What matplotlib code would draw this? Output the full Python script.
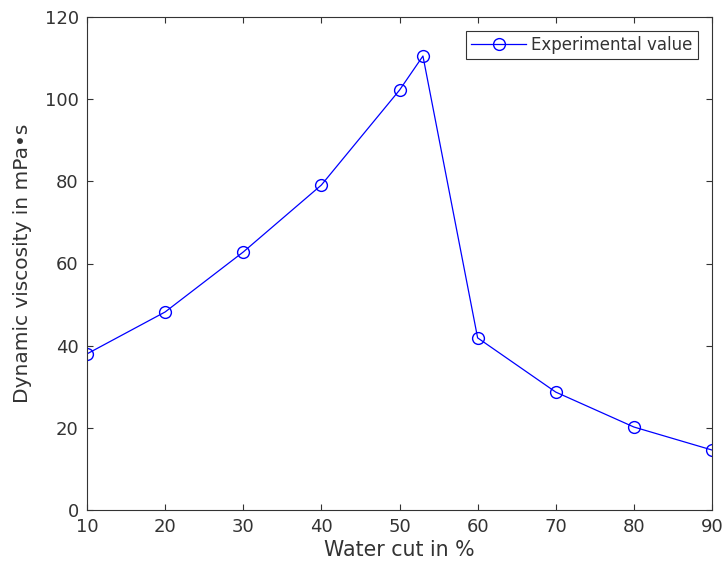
import matplotlib
matplotlib.use("Agg")
import matplotlib.pyplot as plt

# water cut (%) and measured dynamic viscosity (mPa.s)
water_cut = [10, 20, 30, 40, 50, 53, 60, 70, 80, 90]
viscosity = [38.0, 48.2, 62.8, 79.1, 102.2, 110.5, 41.9, 28.7, 20.2, 14.6]

xticks = [10, 20, 30, 40, 50, 60, 70, 80, 90]
yticks = [0, 20, 40, 60, 80, 100, 120]

dark = "#333333"
plt.rcParams["font.family"] = "DejaVu Sans"

fig = plt.figure(figsize=(7.27, 5.69), dpi=100)
ax = fig.add_axes([87 / 727, 59 / 569, 625 / 727, 493 / 569])

ax.plot(water_cut, viscosity, color="blue", linewidth=0.9, marker="o",
        markersize=8.5, markerfacecolor="none", markeredgecolor="blue",
        markeredgewidth=1.0, label="Experimental value")

ax.set_xlim(10, 90)
ax.set_ylim(0, 120)
ax.set_xticks(xticks)
ax.set_yticks(yticks)
# MATLAB-like box: ticks inside on all four sides
ax.tick_params(direction="in", length=4, width=0.8, colors=dark,
               labelsize=13, top=True, right=True, pad=6)
for s in ax.spines.values():
    s.set_color(dark)
    s.set_linewidth(0.8)

ax.set_xlabel("Water cut in %", fontsize=14.8, color=dark, labelpad=3)
ax.set_ylabel("Dynamic viscosity in mPa\u2022s", fontsize=14.5, color=dark,
              labelpad=9)

leg = ax.legend(loc="upper right", fontsize=12, frameon=True, fancybox=False,
                edgecolor=dark, borderpad=0.3, handlelength=3.3,
                handletextpad=0.3, borderaxespad=0.85, framealpha=1)
leg.get_frame().set_linewidth(0.8)
for t in leg.get_texts():
    t.set_color(dark)

fig.savefig("out.png", dpi=100)
